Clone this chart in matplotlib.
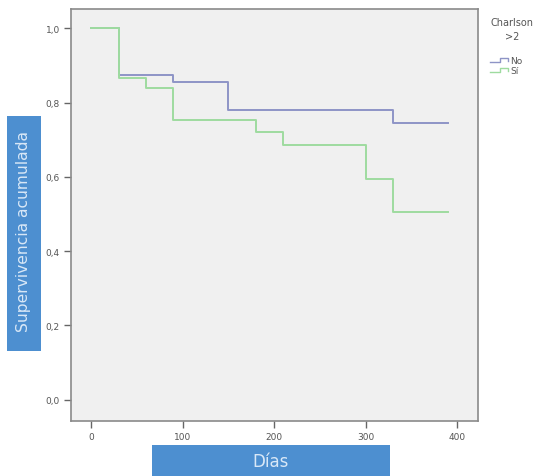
import matplotlib
matplotlib.use("Agg")
import matplotlib.pyplot as plt
from matplotlib.patches import Rectangle
from matplotlib.lines import Line2D
from matplotlib.ticker import FuncFormatter

# Kaplan-Meier curves (days, cumulative survival)
no_days = [0, 30, 90, 150, 330, 390]
no_surv = [1.0, 0.875, 0.854, 0.781, 0.746, 0.746]
si_days = [0, 30, 60, 90, 180, 210, 300, 330, 390]
si_surv = [1.0, 0.867, 0.838, 0.754, 0.720, 0.686, 0.594, 0.506, 0.506]

x_ticks = [0, 100, 200, 300, 400]
y_ticks = [0.0, 0.2, 0.4, 0.6, 0.8, 1.0]

blue = "#8e94c6"
green = "#9edb9f"
box = "#4d8fd0"
box_text = "#d9e8f7"
W, H = 539, 477

fig = plt.figure(figsize=(W / 100, H / 100), dpi=100)
fig.patch.set_facecolor("white")
ax = fig.add_axes([71 / W, 1 - 422 / H, (478 - 71) / W, (422 - 9.5) / H])
ax.set_facecolor("#f0f0f0")

ax.step(no_days, no_surv, where="post", color=blue, lw=1.4)
ax.step(si_days, si_surv, where="post", color=green, lw=1.4)

ax.set_xlim(-22, 423)
ax.set_ylim(-0.057, 1.053)
ax.set_xticks(x_ticks)
ax.set_yticks(y_ticks)
ax.yaxis.set_major_formatter(FuncFormatter(lambda v, p: f"{v:.1f}".replace(".", ",")))
ax.tick_params(direction="out", length=5, width=1, color="#666666",
               labelsize=6.5, labelcolor="#555555", pad=3)
for s in ax.spines.values():
    s.set_color("#8a8a8a")
    s.set_linewidth(1.2)

# label boxes
fig.add_artist(Rectangle((7 / W, 1 - 352 / H), 34 / W, 235 / H,
                         transform=fig.transFigure, color=box, lw=0))
fig.text(24 / W, 1 - 232 / H, "Supervivencia acumulada", rotation=90,
         ha="center", va="center", color=box_text, fontsize=11.2)
fig.add_artist(Rectangle((152 / W, 0), 238 / W, 31 / H,
                         transform=fig.transFigure, color=box, lw=0))
fig.text(271 / W, 1 - 462 / H, "Días", ha="center", va="center",
         color=box_text, fontsize=12)

# legend
fig.text(512 / W, 1 - 23 / H, "Charlson", ha="center", va="center",
         fontsize=7, color="#555555")
fig.text(512 / W, 1 - 37 / H, ">2", ha="center", va="center",
         fontsize=7, color="#555555")
for yy, col, lab in [(61, blue, "No"), (71, green, "Sí")]:
    xs = [490, 500, 500, 508, 508]
    ys = [yy + 2, yy + 2, yy - 2, yy - 2, yy + 1]
    fig.add_artist(Line2D([x / W for x in xs], [1 - y / H for y in ys],
                          transform=fig.transFigure, color=col, lw=1))
    fig.text(510 / W, 1 - yy / H, lab, ha="left", va="center",
             fontsize=6.5, color="#555555")

fig.savefig("out.png", dpi=100)
